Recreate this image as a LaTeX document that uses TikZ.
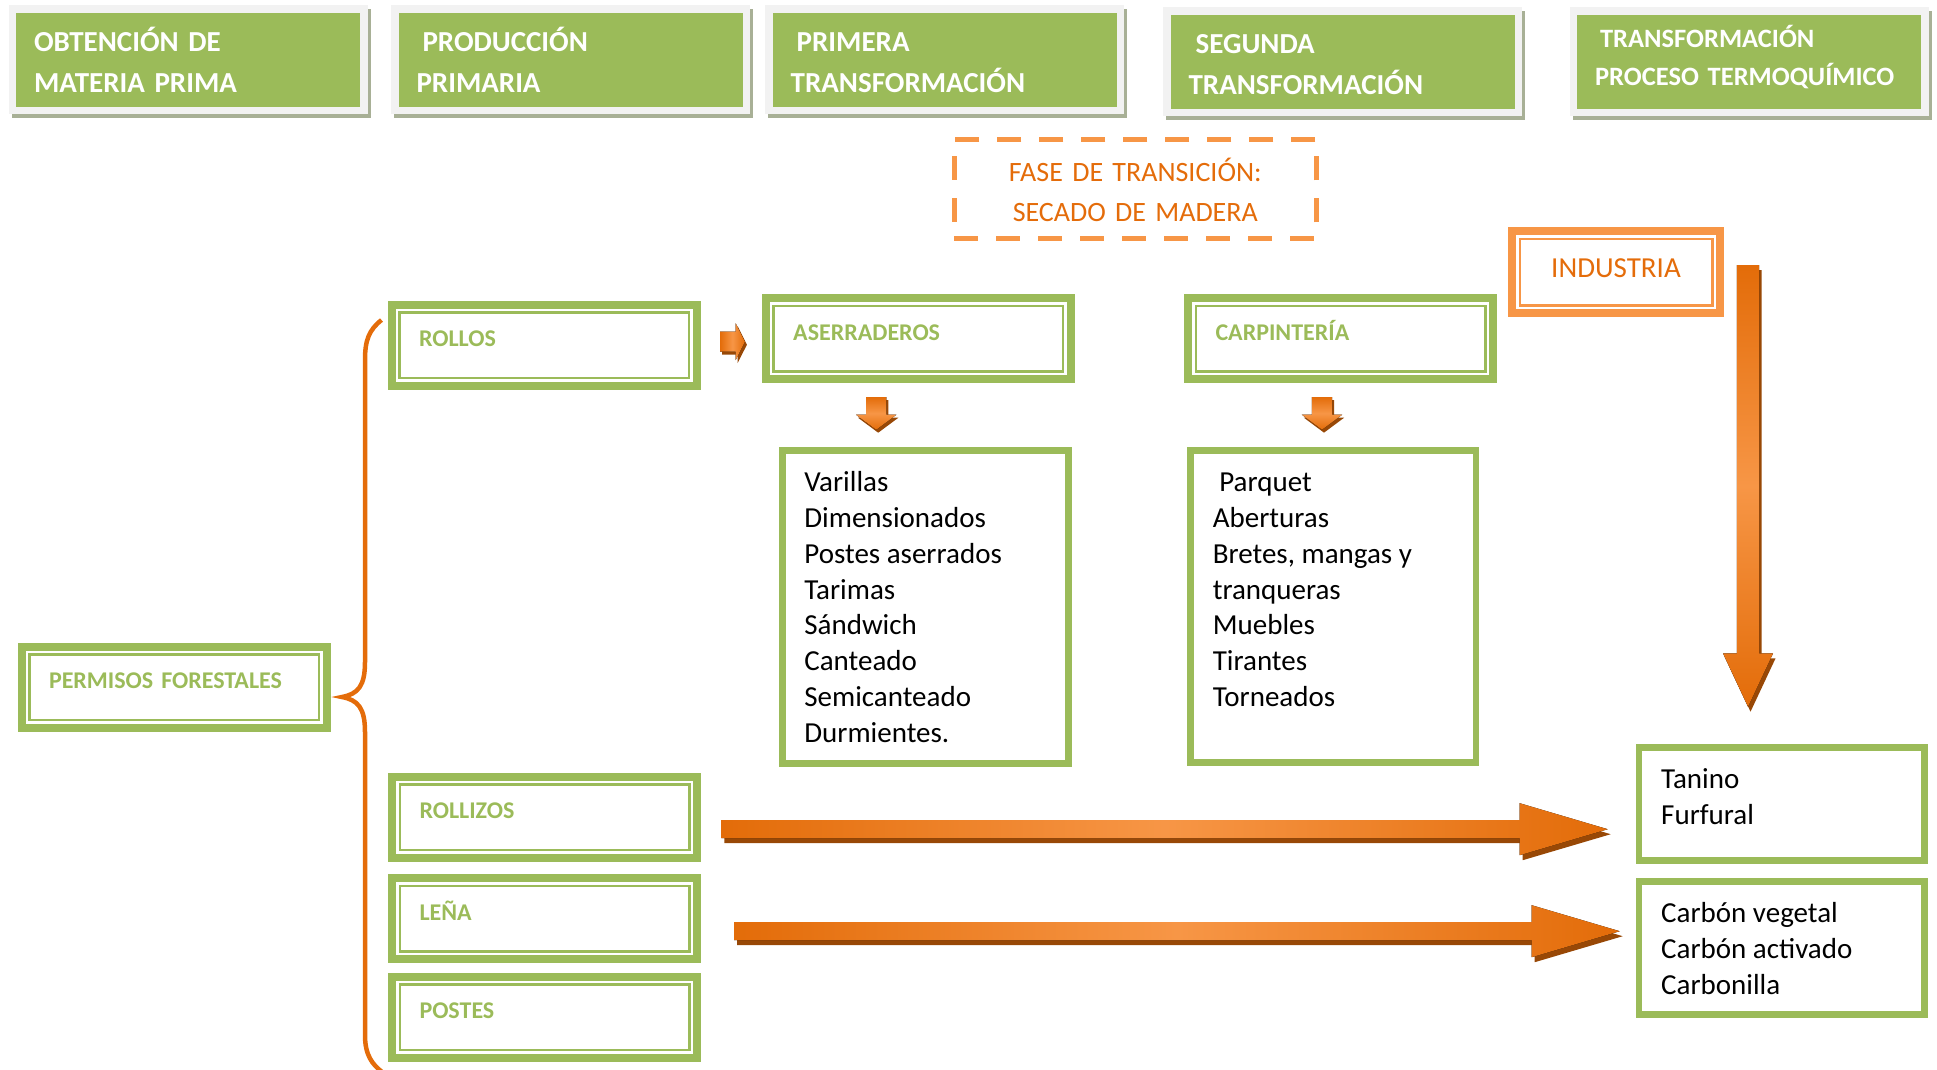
\documentclass[tikz,border=0pt]{standalone}
\usepackage{fontspec}
\setmainfont{Carlito}
\usetikzlibrary{calc}
\definecolor{grn}{RGB}{155,187,89}
\definecolor{hdrframe}{RGB}{242,242,242}
\definecolor{hdrshadow}{RGB}{168,176,150}
\definecolor{orgline}{RGB}{247,150,70}
\definecolor{orgtext}{RGB}{228,108,10}
\definecolor{arrdark}{RGB}{227,108,9}
\definecolor{arrlight}{RGB}{247,150,70}
\definecolor{arrshadow}{RGB}{152,72,6}
\tikzstyle{hdr}=[fill=grn,text=white,font=\bfseries\fontsize{29}{41}\selectfont,
minimum width=344pt,minimum height=94pt,text width=308pt,align=left,inner xsep=18pt,inner ysep=0pt,text height=25pt,
preaction={draw=hdrshadow,fill=hdrshadow,line width=15pt,transform canvas={shift={(3pt,-4pt)}}},
preaction={draw=hdrframe,line width=15pt}]
\tikzstyle{grnbox}=[draw=grn,line width=8pt,text=grn,font=\bfseries\fontsize{24}{29}\selectfont,
minimum width=305pt,minimum height=81pt,text width=250pt,align=left,inner xsep=27.5pt,inner ysep=0pt,
text height=16pt,text depth=13pt,
path picture={\draw[grn,line width=2.5pt] ($(path picture bounding box.north west)+(7.75pt,-7.75pt)$)
rectangle ($(path picture bounding box.south east)+(-7.75pt,7.75pt)$);}]
\tikzstyle{orgbox}=[draw=orgline,line width=8pt,text=orgtext,font=\fontsize{29}{35}\selectfont,
minimum width=208pt,minimum height=82pt,text width=188pt,align=center,inner xsep=10pt,inner ysep=0pt,
text height=19pt,text depth=9pt,
path picture={\draw[orgline,line width=2.5pt] ($(path picture bounding box.north west)+(7.75pt,-7.75pt)$)
rectangle ($(path picture bounding box.south east)+(-7.75pt,7.75pt)$);}]
\tikzstyle{listbox}=[draw=grn,line width=6.7pt,text=black,font=\fontsize{29}{35.8}\selectfont,inner sep=0pt]
\tikzstyle{fasebox}=[draw=orgline,line width=5pt,dash pattern=on 24pt off 18pt,text=orgtext,
font=\fontsize{28}{40}\selectfont,minimum width=361.9pt,minimum height=99.3pt,text width=330pt,
align=center,inner sep=0pt,text height=26pt]
\tikzstyle{brace}=[draw=orgtext,line width=4.5pt]
\newcommand{\listtext}[3]{\parbox[c][#1pt][t]{#2pt}{\raggedright\strut#3}}
% block arrows: start, tip, half shaft, half head, head length, shadow shift
\newcommand{\harrow}[6]{%
\fill[arrshadow,transform canvas={shift={(#6)}}] ($(#1)+(0,-#3)$) -- ($(#2)+(-#5,-#3)$) -- ($(#2)+(-#5,-#4)$) -- (#2)
 -- ($(#2)+(-#5,#4)$) -- ($(#2)+(-#5,#3)$) -- ($(#1)+(0,#3)$) -- cycle;
\fill[left color=arrdark,right color=arrdark,middle color=arrlight] ($(#1)+(0,-#3)$) -- ($(#2)+(-#5,-#3)$)
 -- ($(#2)+(-#5,-#4)$) -- (#2) -- ($(#2)+(-#5,#4)$) -- ($(#2)+(-#5,#3)$) -- ($(#1)+(0,#3)$) -- cycle;}
\newcommand{\varrow}[6]{%
\fill[arrshadow,transform canvas={shift={(#6)}}] ($(#1)+(-#3,0)$) -- ($(#2)+(-#3,-#5)$) -- ($(#2)+(-#4,-#5)$) -- (#2)
 -- ($(#2)+(#4,-#5)$) -- ($(#2)+(#3,-#5)$) -- ($(#1)+(#3,0)$) -- cycle;
\fill[top color=arrdark,bottom color=arrdark,middle color=arrlight] ($(#1)+(-#3,0)$) -- ($(#2)+(-#3,-#5)$)
 -- ($(#2)+(-#4,-#5)$) -- (#2) -- ($(#2)+(#4,-#5)$) -- ($(#2)+(#3,-#5)$) -- ($(#1)+(#3,0)$) -- cycle;}

\begin{document}
\begin{tikzpicture}[x=1pt,y=-1pt]
    \useasboundingbox (0,0) rectangle (1937,1069);

    % headers
    \node (h1) [hdr] at (188.1,59.7) {OBTENCIÓN DE\\MATERIA PRIMA};
    \node (h2) [hdr] at (570.5,59.7) {\hspace*{6pt}PRODUCCIÓN\\PRIMARIA};
    \node (h3) [hdr] at (944.7,59.7) {\hspace*{6pt}PRIMERA\\TRANSFORMACIÓN};
    \node (h4) [hdr] at (1342.6,61.8) {\hspace*{7pt}SEGUNDA\\TRANSFORMACIÓN};
    \node (h5) [hdr,font=\bfseries\fontsize{26.5}{38}\selectfont,text height=13pt] at (1749.1,61.8)
        {\hspace*{5pt}TRANSFORMACIÓN\\PROCESO TERMOQUÍMICO};

    \node (fase) [fasebox] at (1135.3,188.8) {FASE DE TRANSICIÓN:\\SECADO DE MADERA};
    \node (industria) [orgbox] at (1616,272) {INDUSTRIA};

    \node (permisos) [grnbox] at (174,687.2) {PERMISOS FORESTALES};
    \node (rollos) [grnbox] at (544,345) {ROLLOS};
    \node (rollizos) [grnbox] at (544.5,817.2) {ROLLIZOS};
    \node (lena) [grnbox] at (544.5,918.8) {LEÑA};
    \node (postes) [grnbox] at (544.5,1017.2) {POSTES};
    \node (aserr) [grnbox] at (918.2,338.8) {ASERRADEROS};
    \node (carp) [grnbox] at (1340.5,338.8) {CARPINTERÍA};

    \node (aserlist) [listbox,minimum width=286pt,minimum height=312.7pt] at (925.35,607)
        {\listtext{280.7}{242}{Varillas\\Dimensionados\\Postes aserrados\\Tarimas\\Sándwich\\Canteado\\Semicanteado\\Durmientes.}};
    \node (carplist) [listbox,minimum width=285.3pt,minimum height=312pt] at (1333.3,606.6)
        {\listtext{280}{241}{\hspace*{6.5pt}Parquet\\Aberturas\\Bretes, mangas y\\tranqueras\\Muebles\\Tirantes\\Torneados}};
    \node (tanino) [listbox,minimum width=285.3pt,minimum height=113.3pt] at (1781.7,804)
        {\listtext{81.3}{241}{Tanino\\Furfural}};
    \node (carbon) [listbox,minimum width=285.3pt,minimum height=132.7pt] at (1781.7,948)
        {\listtext{100.7}{241}{Carbón vegetal\\Carbón activado\\Carbonilla}};

    % arrow ends
    \coordinate (ro1) at ($(rollos.east)+(19.5,-3.3)$);
    \coordinate (ro2) at ($(ro1 -| aserr.west)+(-16.8,0)$);
    \coordinate (as1) at ($(aserr.south)+(-42,13.7)$);
    \coordinate (as2) at ($(as1 |- aserlist.north)+(0,-17.6)$);
    \coordinate (cp1) at ($(carp.south)+(-18.5,13.7)$);
    \coordinate (cp2) at ($(cp1 |- carplist.north)+(0,-17.6)$);
    \coordinate (in1) at ($(industria.east)+(24,-7)$);
    \coordinate (in2) at ($(in1 |- tanino.north)+(0,-37.3)$);
    \coordinate (rz1) at ($(rollizos.east)+(20.3,12)$);
    \coordinate (rz2) at ($(rz1 -| tanino.west)+(-28,0)$);
    \coordinate (ln1) at ($(lena.east)+(33,12.4)$);
    \coordinate (ln2) at ($(ln1 -| carbon.west)+(-16,0)$);

    \harrow{ro1}{ro2}{10}{18.3}{9.2}{2pt,-3pt}
    \varrow{as1}{as2}{10.2}{20.2}{15}{2pt,-3pt}
    \varrow{cp1}{cp2}{10.2}{20.2}{15}{2pt,-3pt}
    \varrow{in1}{in2}{11.2}{25}{53.3}{2.5pt,-5pt}
    \harrow{rz1}{rz2}{9}{26}{88}{3pt,-5pt}
    \harrow{ln1}{ln2}{9}{26}{88}{3pt,-5pt}

    % brace
    \draw [brace] (381.5,320) .. controls (369,330) and (365,340) .. (365,360) -- (365,662)
        .. controls (365,686) and (358,694) .. (342,697) .. controls (358,700) and (365,708) .. (365,732)
        -- (365,1035) .. controls (365,1055) and (372,1064) .. (382,1072);

\end{tikzpicture}
\end{document}
